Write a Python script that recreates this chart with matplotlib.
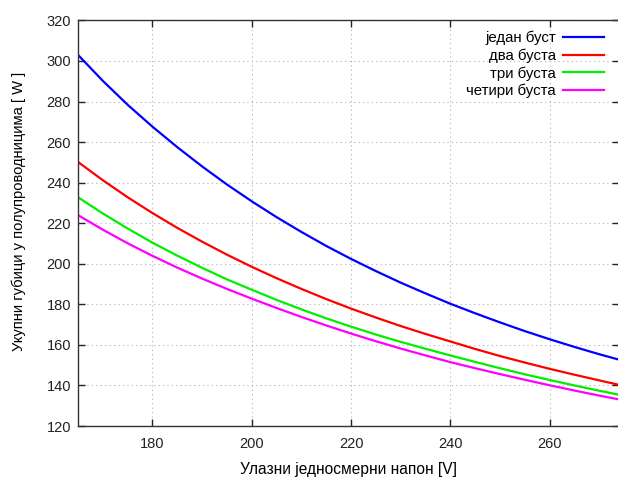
import matplotlib

matplotlib.use("Agg")

import matplotlib.pyplot as plt

plt.rcParams["font.family"] = ["Liberation Sans", "DejaVu Sans"]

# values (every 5 V)
voltage = [165, 170, 175, 180, 185, 190, 195, 200, 205, 210, 215, 220,
           225, 230, 235, 240, 245, 250, 255, 260, 265, 270, 274]
one_boost = [303.0, 290.2, 278.4, 267.6, 257.5, 248.0, 239.1, 230.8, 223.0, 215.7, 208.8, 202.4,
             196.4, 190.7, 185.4, 180.3, 175.6, 171.1, 166.8, 162.8, 159.0, 155.4, 152.7]
two_boosts = [250.2, 241.2, 232.8, 225.0, 217.7, 210.9, 204.5, 198.5, 192.9, 187.6, 182.6, 177.9,
              173.5, 169.3, 165.4, 161.7, 158.0, 154.5, 151.3, 148.2, 145.3, 142.5, 140.3]
three_boosts = [232.8, 224.8, 217.4, 210.4, 204.0, 198.0, 192.3, 187.2, 182.2, 177.5, 173.1, 169.0,
                165.1, 161.5, 158.1, 154.8, 151.6, 148.5, 145.5, 142.7, 140.0, 137.4, 135.4]
four_boosts = [224.0, 216.8, 210.1, 203.9, 198.1, 192.7, 187.6, 182.8, 178.2, 173.8, 169.6, 165.6,
               161.8, 158.2, 154.8, 151.5, 148.5, 145.6, 142.8, 140.1, 137.5, 135.0, 133.1]

series_labels = ["један буст", "два буста", "три буста", "четири буста"]
series_colors = ["#0000ff", "#ff0000", "#00ee00", "#ff00ff"]
x_ticks = [180, 200, 220, 240, 260]
y_ticks = [120, 140, 160, 180, 200, 220, 240, 260, 280, 300, 320]

fig = plt.figure(figsize=(6.18, 4.8), dpi=100)
ax = fig.add_axes((0.1262, 0.1125, 0.8755, 0.845))

for values, label, color in zip(
    [one_boost, two_boosts, three_boosts, four_boosts], series_labels, series_colors
):
    ax.plot(voltage, values, color=color, linewidth=1.6, label=label)

ax.set_xlim(165, 274)
ax.set_ylim(120, 320)
ax.set_xticks(x_ticks)
ax.set_yticks(y_ticks)
ax.tick_params(direction="in", length=5, width=1, colors="#222222", labelsize=10.5,
               top=True, right=True, pad=5)
ax.tick_params(axis="x", pad=8)
ax.grid(True, color="#b0b0b0", linestyle=(0, (1, 3)), linewidth=0.8)
for spine in ax.spines.values():
    spine.set_color("#333333")
    spine.set_linewidth(1.0)

ax.set_xlabel("Улазни једносмерни напон [V]", fontsize=11.2, labelpad=8)
ax.set_ylabel("Укупни губици у полупроводницима [ W ]", fontsize=10.6)
ax.yaxis.set_label_coords(-0.097, 0.53)

ax.legend(loc="upper right", frameon=False, markerfirst=False, fontsize=10.8,
          handlelength=2.7, handletextpad=0.5, labelspacing=0.22,
          borderaxespad=0.4, bbox_to_anchor=(0.994, 1.004))

fig.savefig("out.png", dpi=100)
